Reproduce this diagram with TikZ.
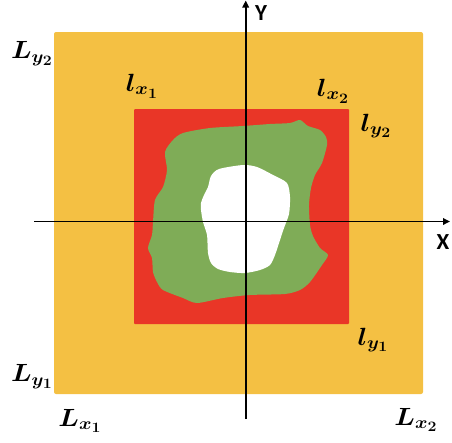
\documentclass[tikz,border=0pt]{standalone}
\usepackage{bm}
\usepackage{fontspec}
\newfontfamily\axisfont{Carlito}
\usetikzlibrary{arrows.meta}
\DeclareMathSizes{24}{24}{18}{15}
\definecolor{outeryellow}{HTML}{F4C043}
\definecolor{innerred}{HTML}{E93627}
\definecolor{regiongreen}{HTML}{7FAC57}
\tikzset{
  bound/.style={font=\fontsize{24}{27}\selectfont,xscale=1.1},
  axislabel/.style={font=\fontsize{23}{25}\selectfont\axisfont\bfseries},
  axisline/.style={line width=1.7pt,-{Triangle[length=7pt,width=6.5pt]}}
}

\begin{document}
\begin{tikzpicture}[x=1pt,y=-1pt]
\useasboundingbox (0,0) rectangle (452,442);
\draw[fill=outeryellow,draw=none,rounded corners=2pt] (54,32) rectangle (423,394);
\draw[fill=innerred,draw=none,rounded corners=1pt] (134,109) rectangle (349,324);
\fill[regiongreen] plot[smooth cycle,tension=0.45] coordinates {
 (243,126) (270,124) (290,123) (300,120) (308,126) (320,130) (326,137) (327,145)
 (322,163) (315,175) (311,188) (309,205) (310,225) (313,236) (320,248) (328,255)
 (322,265) (310,282) (300,290) (285,294) (250,295) (223,298) (197,303) (183,298)
 (163,290) (157,282) (153,272) (152,258) (148,248) (152,235) (153,222) (155,200)
 (163,187) (167,170) (165,152) (173,140) (183,133) (210,128)};
\fill[white] plot[smooth cycle,tension=0.45] coordinates {
 (243,165) (257,167) (273,175) (287,183) (290,197) (289,214) (284,228) (280,240)
 (275,255) (270,265) (260,270) (245,273) (230,272) (218,269) (211,263) (208,253)
 (207,235) (203,222) (201,210) (201,203) (204,195) (208,187) (211,176) (219,169)};

% axes
\coordinate (xstart) at (34,221.5);
\coordinate (xend) at (450,221.5);
\coordinate (ystart) at (245.7,419);
\coordinate (yend) at (245.7,0.5);
\draw[axisline] (xstart) -- (xend);
\draw[axisline] (ystart) -- (yend);
\node[axislabel] (xlab) at (443,242) {X};
\node[axislabel] (ylab) at (261,13) {Y};

% bounds
\node[bound] (Ly2) at (32,54) {$\bm{L_{y_2}}$};
\node[bound] (Ly1) at (32,377) {$\bm{L_{y_1}}$};
\node[bound] (Lx1) at (80,421) {$\bm{L_{x_1}}$};
\node[bound] (Lx2) at (416,420) {$\bm{L_{x_2}}$};
\node[bound] (lx1) at (142,86) {$\bm{l_{x_1}}$};
\node[bound] (lx2) at (333,91) {$\bm{l_{x_2}}$};
\node[bound] (ly2) at (376,126) {$\bm{l_{y_2}}$};
\node[bound] (ly1) at (373,340) {$\bm{l_{y_1}}$};
\end{tikzpicture}
\end{document}
